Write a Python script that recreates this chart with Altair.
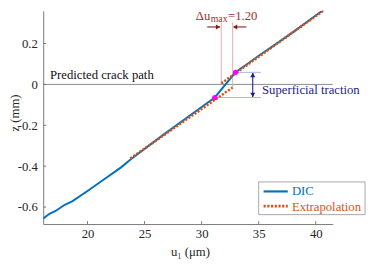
import altair as alt
import pandas as pd

# ---------------- data ----------------
dic_u = [16.10, 16.66, 17.20, 17.97, 18.69, 20.06, 21.49, 22.91, 23.77, 26.63, 29.49,
         31.15, 32.97, 34.00, 35.00, 36.50, 38.07, 40.00, 41.60]
dic_z = [-0.657, -0.633, -0.619, -0.590, -0.571, -0.519, -0.463, -0.407, -0.367, -0.247, -0.131,
         -0.064, 0.059, 0.100, 0.140, 0.197, 0.258, 0.337, 0.402]

ext_seg = ["lower", "lower", "upper", "upper"]
ext_u = [23.75, 32.72, 31.72, 40.63]
ext_z = [-0.362, -0.015, 0.005, 0.359]

pink_u = [31.15, 32.97]
pink_z = [-0.064, 0.059]

x_ticks = [20, 25, 30, 35, 40]
y_ticks = [-0.6, -0.4, -0.2, 0, 0.2]

# annotation anchors (data coordinates)
crack_z = [0]
guide_u = [31.72, 32.72]          # pink vertical guides
guide_z_top = [0.303, 0.303]
guide_z_bot = [0.005, -0.015]
trac_u1 = [32.97, 31.15]          # superficial traction guides
trac_u2 = [35.20, 35.20]
trac_z = [0.059, -0.064]

X0, X1 = 16.117, 41.49
Y0, Y1 = -0.683, 0.360
W, H = 296, 218

FONT = "Liberation Serif"
AX = "#262626"
DIC_C = "#0072BD"
EXT_C = "#D95319"
RED = "#A52A2A"
NAVY = "#1C1C8C"

xs = alt.Scale(domain=[X0, X1], nice=False, zero=False)
ys = alt.Scale(domain=[Y0, Y1], nice=False, zero=False)

xaxis = alt.Axis(title="u₁ (μm)", values=x_ticks, ticks=False, grid=False,
                 domainColor="#7a7a7a", labelFont=FONT, labelFontSize=13, labelColor=AX,
                 labelPadding=4, titleFont=FONT, titleFontSize=13, titleColor=AX,
                 titleFontWeight="normal", titleX=150, titleY=32, titleBaseline="alphabetic",
                 titleAlign="center")
yaxis = alt.Axis(title="z (mm)", values=y_ticks, ticks=False, grid=False,
                 domainColor="#7a7a7a", labelFont=FONT, labelFontSize=13, labelColor=AX,
                 labelPadding=6,
                 labelExpr="datum.value == 0 ? '0' : (datum.value < 0 ? '-' + format(-datum.value, '.1f') : format(datum.value, '.1f'))",
                 titleFont=FONT, titleFontSize=13, titleColor=AX, titleFontWeight="normal",
                 titleX=-25.5, titleY=104, titleBaseline="alphabetic", titleAlign="center",
                 titleAngle=270)


def X(f):
    return alt.X(f, type="quantitative", scale=xs, axis=xaxis)


def Y(f):
    return alt.Y(f, type="quantitative", scale=ys, axis=yaxis)


dic_df = pd.DataFrame({"u": dic_u, "z": dic_z})
ext_df = pd.DataFrame({"seg": ext_seg, "u": ext_u, "z": ext_z})
pink_df = pd.DataFrame({"u": pink_u, "z": pink_z})

zero = alt.Chart(pd.DataFrame({"z": crack_z})).mark_rule(color="#8a8a8a", strokeWidth=1).encode(
    y=Y("z"))

guides = alt.Chart(pd.DataFrame({"u": guide_u, "z": guide_z_top, "z2": guide_z_bot})).mark_rule(
    color="#eeaaaa", strokeWidth=1).encode(x=X("u"), y=Y("z"), y2="z2")

trac = alt.Chart(pd.DataFrame({"u": trac_u1, "u2": trac_u2, "z": trac_z})).mark_rule(
    color="#aab4e6", strokeWidth=1).encode(x=X("u"), x2="u2", y=Y("z"))

dic = alt.Chart(dic_df).mark_line(color=DIC_C, strokeWidth=2, clip=True).encode(
    x=X("u"), y=Y("z"), order="u:Q")

ext = alt.Chart(ext_df).mark_line(color=EXT_C, strokeWidth=2.6, strokeDash=[2.2, 1.6],
                                  strokeCap="butt", clip=True).encode(
    x=X("u"), y=Y("z"), detail="seg:N")

pts = alt.Chart(pink_df).mark_point(filled=True, color="#FF00FF", size=28, opacity=1).encode(
    x=X("u"), y=Y("z"))

# navy double arrow (superficial traction)
navy_shaft = alt.Chart(pd.DataFrame({"u": [34.48], "z": [0.056], "z2": [-0.061]})).mark_rule(
    color=NAVY, strokeWidth=1.1).encode(x=X("u"), y=Y("z"), y2="z2")
navy_heads = alt.Chart(pd.DataFrame({"u": [34.48, 34.48], "z": [0.046, -0.051],
                                     "s": ["triangle-up", "triangle-down"]})).mark_point(
    filled=True, color=NAVY, size=26, opacity=1).encode(
    x=X("u"), y=Y("z"), shape=alt.Shape("s:N", scale=None))

# dark red dimension arrows
red_shaft = alt.Chart(pd.DataFrame({"u": [30.49, 33.92], "u2": [31.60, 32.84],
                                    "z": [0.281, 0.281]})).mark_rule(
    color="#8B1A1A", strokeWidth=1.1).encode(x=X("u"), x2="u2", y=Y("z"))
red_heads = alt.Chart(pd.DataFrame({"u": [31.44, 32.93], "z": [0.281, 0.281],
                                    "s": ["triangle-right", "triangle-left"]})).mark_point(
    filled=True, color="#8B1A1A", size=26, opacity=1).encode(
    x=X("u"), y=Y("z"), shape=alt.Shape("s:N", scale=None))

def text_layer(u, z, label, size, color, align, baseline):
    return alt.Chart(pd.DataFrame({"u": [u], "z": [z], "t": [label]})).mark_text(
        font=FONT, fontSize=size, color=color, align=align, baseline=baseline).encode(
        x=X("u"), y=Y("z"), text="t:N")

t_du = text_layer(30.757, 0.315, "Δu", 13, RED, "right", "alphabetic")
t_max = text_layer(30.80, 0.303, "max", 10, RED, "left", "alphabetic")
t_val = text_layer(32.317, 0.315, "=1.20", 13, RED, "left", "alphabetic")
t_crack = text_layer(16.717, 0.0278, "Predicted crack path", 13, "#111111", "left", "alphabetic")
t_trac = text_layer(35.29, -0.0297, "Superficial traction", 13, NAVY, "left", "middle")

# legend (drawn by hand, as in the reference box)
leg_box = alt.Chart(pd.DataFrame({"u": [35.0], "u2": [44.32], "z": [-0.477], "z2": [-0.637]})).mark_rect(
    fill="white", stroke="#a6a6a6", strokeWidth=1).encode(x=X("u"), x2="u2", y=Y("z"), y2="z2")
leg_dic = alt.Chart(pd.DataFrame({"u": [35.43], "u2": [37.55], "z": [-0.5235]})).mark_rule(
    color=DIC_C, strokeWidth=2.2).encode(x=X("u"), x2="u2", y=Y("z"))
leg_ext = alt.Chart(pd.DataFrame({"u": [35.43], "u2": [37.55], "z": [-0.5953]})).mark_rule(
    color=EXT_C, strokeWidth=2.6, strokeDash=[2.2, 1.6], strokeCap="butt").encode(
    x=X("u"), x2="u2", y=Y("z"))
t_leg1 = text_layer(37.91, -0.521, "DIC", 13, DIC_C, "left", "middle")
t_leg2 = text_layer(37.91, -0.600, "Extrapolation", 13, EXT_C, "left", "middle")

# inward ticks
xt = alt.Chart(pd.DataFrame({"u": x_ticks})).mark_rule(color="#7a7a7a").encode(
    x=X("u"), y=alt.value(H), y2=alt.value(H - 3))
yt = alt.Chart(pd.DataFrame({"z": y_ticks})).mark_rule(color="#7a7a7a").encode(
    y=Y("z"), x=alt.value(0), x2=alt.value(3))

chart = alt.layer(
    zero, guides, trac, dic, ext, pts, navy_shaft, navy_heads, red_shaft, red_heads,
    t_du, t_max, t_val, t_crack, t_trac, leg_box, leg_dic, leg_ext, t_leg1, t_leg2, xt, yt
).properties(
    width=W, height=H,
    autosize=alt.AutoSizeParams(type="none"),
    padding={"left": 36, "top": 0, "right": 34, "bottom": 39},
    background="white",
).configure_view(stroke=None)

chart.save("out.html", embed_options={"renderer": "svg", "actions": False})
